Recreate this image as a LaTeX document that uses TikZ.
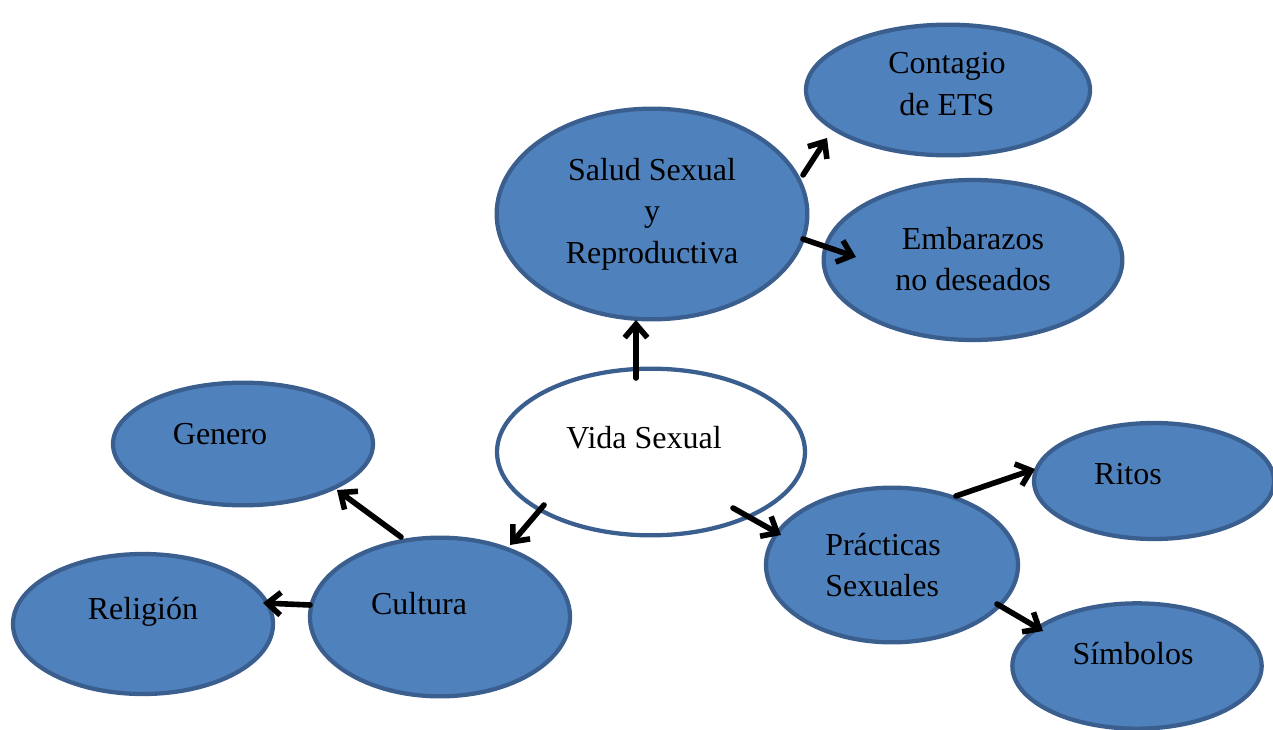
\documentclass[tikz,border=0pt]{standalone}
\usepackage{fontspec}
\setmainfont{Liberation Serif}
\usetikzlibrary{shapes.geometric,arrows.meta}
\definecolor{bfill}{HTML}{4F81BD}
\definecolor{bline}{HTML}{3A5F8F}
\tikzset{
  oval/.style={ellipse, draw=bline, line width=3.2pt, fill=bfill, inner sep=0pt},
  ovalw/.style={oval, fill=white},
  lbl/.style={font=\fontsize{24}{31}\selectfont, align=center, text=black, inner sep=0pt},
  con/.style={line width=4.2pt, -{Straight Barb[length=10pt,width=17pt,line width=4.2pt]}, line cap=round}
}
\begin{document}
\begin{tikzpicture}[x=0.75pt,y=-0.75pt]
\useasboundingbox (0,0) rectangle (1273,730);
% ellipses
\node[oval, minimum width=213pt, minimum height=98pt] (contagio) at (948,90) {};
\node[oval, minimum width=233pt, minimum height=158pt] (salud) at (652,214) {};
\node[oval, minimum width=224pt, minimum height=120pt] (embarazos) at (973,260) {};
\node[ovalw, minimum width=231pt, minimum height=125pt] (vida) at (651,452) {};
\node[oval, minimum width=195pt, minimum height=92pt] (genero) at (243,444) {};
\node[oval, minimum width=195pt, minimum height=105pt] (religion) at (143,624) {};
\node[oval, minimum width=195pt, minimum height=119pt] (cultura) at (440,617) {};
\node[oval, minimum width=189pt, minimum height=116pt] (practicas) at (892,565) {};
\node[oval, minimum width=180pt, minimum height=87pt] (ritos) at (1154,481) {};
\node[oval, minimum width=187pt, minimum height=94pt] (simbolos) at (1137,666) {};
% texts
\node[lbl] (tcontagio) at (947,84) {Contagio\\de ETS};
\node[lbl] (tsalud) at (652,214) {Salud Sexual\\y\\Reproductiva};
\node[lbl] (tembarazos) at (973,259) {Embarazos\\no deseados};
\node[lbl] (tvida) at (644,438) {Vida Sexual};
\node[lbl] (tgenero) at (220,434) {Genero};
\node[lbl] (treligion) at (143,612) {Religión};
\node[lbl] (tcultura) at (419,604) {Cultura};
\node[lbl, align=left] (tpracticas) at (883,565) {Prácticas\\Sexuales};
\node[lbl] (tritos) at (1128,474) {Ritos};
\node[lbl] (tsimbolos) at (1133,654) {Símbolos};
% arrow end points
\coordinate (a1s) at (636,378); \coordinate (a1e) at (636,320);
\coordinate (a2s) at (803,175); \coordinate (a2e) at (827,138);
\coordinate (a3s) at (803,239); \coordinate (a3e) at (856,257);
\coordinate (a4s) at (733,508); \coordinate (a4e) at (781,535);
\coordinate (a5s) at (956,496); \coordinate (a5e) at (1035,469);
\coordinate (a6s) at (997,604); \coordinate (a6e) at (1043,631);
\coordinate (a7s) at (544,505); \coordinate (a7e) at (510,545);
\coordinate (a8s) at (401,537); \coordinate (a8e) at (337,490);
\coordinate (a9s) at (310,605); \coordinate (a9e) at (263,603);
\draw[con] (a1s) -- (a1e);
\draw[con] (a2s) -- (a2e);
\draw[con] (a3s) -- (a3e);
\draw[con] (a4s) -- (a4e);
\draw[con] (a5s) -- (a5e);
\draw[con] (a6s) -- (a6e);
\draw[con] (a7s) -- (a7e);
\draw[con] (a8s) -- (a8e);
\draw[con] (a9s) -- (a9e);
\end{tikzpicture}
\end{document}
